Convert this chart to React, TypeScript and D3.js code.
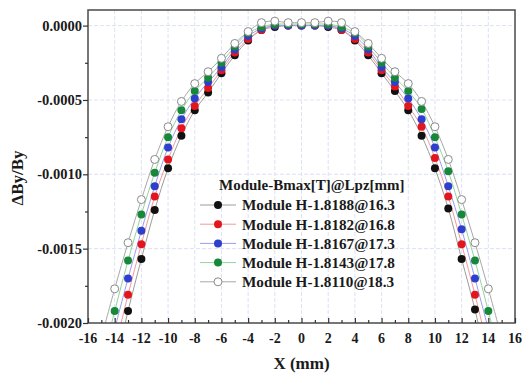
import React, {useRef, useEffect} from 'react'
import * as d3 from 'd3'

// x positions (mm), -15 .. 15
const xPositions = [
  -15, -14, -13, -12, -11, -10, -9, -8, -7, -6, -5, -4, -3, -2, -1, 0,
  1, 2, 3, 4, 5, 6, 7, 8, 9, 10, 11, 12, 13, 14, 15
]

const seriesNames = [
  'Module H-1.8188@16.3',
  'Module H-1.8182@16.8',
  'Module H-1.8167@17.3',
  'Module H-1.8143@17.8',
  'Module H-1.8110@18.3'
]

const values163 = [
  null, -0.00232, -0.00192, -0.00157, -0.00124, -0.00096, -0.00074, -0.00057, -0.00045, -0.00032, -0.0002,
  -0.0001, -0.00003, -0.00001, 0, 0, 0, -0.00001, -0.00003, -0.0001, -0.0002, -0.00032, -0.00044, -0.00057,
  -0.00074, -0.00096, -0.00123, -0.00157, -0.00191, -0.00232, null
]
const values168 = [
  null, -0.00218, -0.00181, -0.00147, -0.00115, -0.0009, -0.00069, -0.00054, -0.00042, -0.0003, -0.00018,
  -0.00009, -0.00003, 0, 0, 0, 0, 0, -0.00003, -0.00009, -0.00018, -0.0003, -0.00041, -0.00054,
  -0.00068, -0.00089, -0.00115, -0.00147, -0.00181, -0.00218, null
]
const values173 = [
  null, -0.00204, -0.0017, -0.00138, -0.00108, -0.00082, -0.00063, -0.00049, -0.00038, -0.00028, -0.00016,
  -0.00007, -0.00002, 0, 0, 0, 0, 0, -0.00002, -0.00007, -0.00016, -0.00028, -0.00038, -0.00049,
  -0.00063, -0.00082, -0.00108, -0.00137, -0.0017, -0.00204, null
]
const values178 = [
  -0.00228, -0.00192, -0.00158, -0.00127, -0.00099, -0.00075, -0.00057, -0.00044, -0.00035, -0.00025, -0.00014,
  -0.00005, -0.00001, 0.00001, 0.00001, 0.00001, 0.00001, 0.00001, -0.00001, -0.00005, -0.00014, -0.00025, -0.00035, -0.00044,
  -0.00056, -0.00075, -0.00098, -0.00127, -0.00158, -0.00192, -0.00228
]
const values183 = [
  -0.0021, -0.00177, -0.00146, -0.00117, -0.0009, -0.00068, -0.00051, -0.00039, -0.00031, -0.00022, -0.00012,
  -0.00004, 0.00002, 0.00003, 0.00002, 0.00002, 0.00002, 0.00003, 0.00002, -0.00004, -0.00012, -0.00022, -0.00031, -0.00039,
  -0.00051, -0.00068, -0.0009, -0.00117, -0.00146, -0.00177, -0.0021
]

const xTicks = [-16, -14, -12, -10, -8, -6, -4, -2, 0, 2, 4, 6, 8, 10, 12, 14, 16]
const yTicks = [0, -0.0005, -0.001, -0.0015, -0.002]

const markerFills = ['#111111', '#e3161e', '#2d3fcc', '#17883a', '#ffffff']
const lineColors = ['#9c9c9c', '#f29a9a', '#9a9cf0', '#93d49a', '#a8a8a8']

const FONT = '"Times New Roman", "Liberation Serif", serif'

function App() {
  const svgRef = useRef(null)

  useEffect(() => {
    const svg = d3.select(svgRef.current)
    svg.selectAll('*').remove()

    const left = 88
    const right = 515
    const top = 10
    const bottom = 323

    const x = d3.scaleLinear().domain([-16, 16]).range([left, right])
    const y = d3.scaleLinear().domain([-0.002, 0.000105]).range([bottom, top])

    const allSeries = [values163, values168, values173, values178, values183]

    svg.append('rect').attr('width', 522).attr('height', 373).attr('fill', '#fff')

    svg
      .append('defs')
      .append('clipPath')
      .attr('id', 'plotClip')
      .append('rect')
      .attr('x', left)
      .attr('y', top)
      .attr('width', right - left)
      .attr('height', bottom - top)

    // grid
    const grid = svg.append('g')
    grid
      .selectAll('line.vg')
      .data(xTicks.slice(1, -1))
      .enter()
      .append('line')
      .attr('x1', d => x(d))
      .attr('x2', d => x(d))
      .attr('y1', top)
      .attr('y2', bottom)
      .attr('stroke', '#dde1f2')
      .attr('stroke-dasharray', '4 2')
    grid
      .selectAll('line.hg')
      .data(yTicks.slice(0, -1))
      .enter()
      .append('line')
      .attr('x1', left)
      .attr('x2', right)
      .attr('y1', d => y(d))
      .attr('y2', d => y(d))
      .attr('stroke', '#dde1f2')
      .attr('stroke-dasharray', '4 2')

    const plot = svg.append('g').attr('clip-path', 'url(#plotClip)')

    const line = d3
      .line<number | null>()
      .defined(d => d !== null)
      .curve(d3.curveCatmullRom)
      .x((d, i) => x(xPositions[i]))
      .y(d => y(d as number))

    allSeries.forEach((vals, s) => {
      plot
        .append('path')
        .datum(vals)
        .attr('d', line)
        .attr('fill', 'none')
        .attr('stroke', lineColors[s])
        .attr('stroke-width', 1)
    })

    allSeries.forEach((vals, s) => {
      plot
        .append('g')
        .selectAll('circle')
        .data(vals.map((v, i) => ({x: xPositions[i], v})).filter(d => d.v !== null))
        .enter()
        .append('circle')
        .attr('cx', d => x(d.x))
        .attr('cy', d => y(d.v as number))
        .attr('r', 4)
        .attr('fill', markerFills[s])
        .attr('stroke', s === 4 ? '#8a8a8a' : 'none')
        .attr('stroke-width', 1)
    })

    // frame
    svg
      .append('rect')
      .attr('x', left)
      .attr('y', top)
      .attr('width', right - left)
      .attr('height', bottom - top)
      .attr('fill', 'none')
      .attr('stroke', '#4a4a4a')
      .attr('stroke-width', 1.5)

    // x axis ticks (inward) and labels
    const xAxis = svg.append('g').attr('transform', `translate(0,${bottom})`)
    xAxis
      .call(
        d3
          .axisBottom(x)
          .tickValues(d3.range(-16, 17, 1))
          .tickSizeInner(-3)
          .tickSizeOuter(0)
          .tickFormat(() => '')
      )
    xAxis.select('.domain').remove()
    xAxis.selectAll('line').attr('stroke', '#333').attr('stroke-width', 1.2)
    xAxis
      .selectAll('.tick')
      .filter((d: any) => d % 2 === 0)
      .select('line')
      .attr('y2', -5)
    svg
      .append('g')
      .selectAll('text')
      .data(xTicks)
      .enter()
      .append('text')
      .attr('x', d => x(d))
      .attr('y', bottom + 20)
      .attr('text-anchor', 'middle')
      .style('font-family', FONT)
      .style('font-weight', 'bold')
      .style('font-size', '14px')
      .attr('fill', '#1a1a1a')
      .text(d => String(d))

    // y axis ticks (outward) and labels
    const yAxis = svg.append('g').attr('transform', `translate(${left},0)`)
    yAxis.call(
      d3
        .axisLeft(y)
        .tickValues(d3.range(0, 9).map(i => -i * 0.00025))
        .tickSizeInner(3)
        .tickSizeOuter(0)
        .tickFormat(() => '')
    )
    yAxis.select('.domain').remove()
    yAxis.selectAll('line').attr('stroke', '#333').attr('stroke-width', 1.2)
    yAxis
      .selectAll('.tick')
      .filter((d: any, i: number) => i % 2 === 0)
      .select('line')
      .attr('x2', -5)
    svg
      .append('g')
      .selectAll('text')
      .data(yTicks)
      .enter()
      .append('text')
      .attr('x', left - 6)
      .attr('y', d => y(d))
      .attr('dy', '0.35em')
      .attr('text-anchor', 'end')
      .style('font-family', FONT)
      .style('font-weight', 'bold')
      .style('font-size', '14.5px')
      .attr('fill', '#1a1a1a')
      .text(d => d3.format('.4f')(d).replace('−', '-'))

    // axis titles
    svg
      .append('text')
      .attr('x', (left + right) / 2)
      .attr('y', 369)
      .attr('text-anchor', 'middle')
      .style('font-family', FONT)
      .style('font-weight', 'bold')
      .style('font-size', '17px')
      .attr('fill', '#1a1a1a')
      .text('X (mm)')
    svg
      .append('text')
      .attr('transform', 'translate(23,178) rotate(-90)')
      .attr('text-anchor', 'middle')
      .style('font-family', FONT)
      .style('font-weight', 'bold')
      .style('font-size', '17px')
      .attr('fill', '#1a1a1a')
      .text('ΔBy/By')

    // legend
    const legend = svg.append('g')
    legend
      .append('text')
      .attr('x', 219)
      .attr('y', 185)
      .attr('dy', '0.35em')
      .style('font-family', FONT)
      .style('font-weight', 'bold')
      .style('font-size', '15px')
      .attr('fill', '#1a1a1a')
      .text('Module-Bmax[T]@Lpz[mm]')
    seriesNames.forEach((name, s) => {
      const ry = 205 + s * 19.2
      legend
        .append('line')
        .attr('x1', 200)
        .attr('x2', 236)
        .attr('y1', ry)
        .attr('y2', ry)
        .attr('stroke', lineColors[s])
        .attr('stroke-width', 1)
      legend
        .append('circle')
        .attr('cx', 218)
        .attr('cy', ry)
        .attr('r', 4)
        .attr('fill', markerFills[s])
        .attr('stroke', s === 4 ? '#8a8a8a' : 'none')
      legend
        .append('text')
        .attr('x', 242)
        .attr('y', ry)
        .attr('dy', '0.35em')
        .style('font-family', FONT)
        .style('font-weight', 'bold')
        .style('font-size', '15.2px')
        .attr('fill', '#1a1a1a')
        .text(name)
    })
  }, [])

  return (
    <svg
      ref={svgRef}
      width={522}
      height={373}
      style={{position: 'fixed', left: 0, top: 0}}
    />
  )
}

export default App
